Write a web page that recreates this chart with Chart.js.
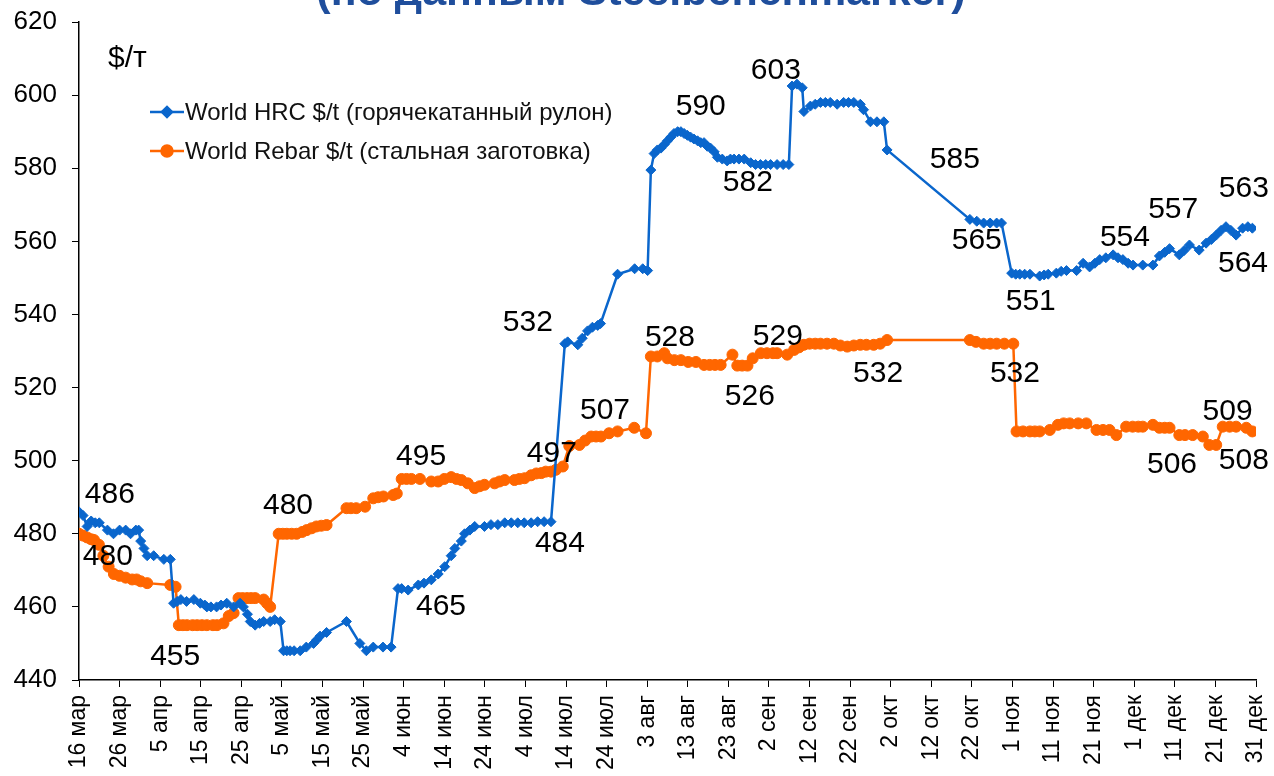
<!DOCTYPE html>
<html lang="ru">
<head>
<meta charset="utf-8">
<title>World HRC / Rebar</title>
<script src="https://cdn.jsdelivr.net/npm/chart.js@4.4.1/dist/chart.umd.min.js"></script>
<style>
  html, body { margin: 0; padding: 0; background: #fff; overflow: hidden; }
  #wrap { width: 1274px; height: 776px; position: relative; }
</style>
</head>
<body>
<div id="wrap"><canvas id="steel"></canvas></div>
<script>
// x = days after 16 мар, y = $/т
const tickLabels = ['16 мар','26 мар','5 апр','15 апр','25 апр','5 май','15 май','25 май','4 июн','14 июн','24 июн',
  '4 июл','14 июл','24 июл','3 авг','13 авг','23 авг','2 сен','12 сен','22 сен','2 окт','12 окт','22 окт',
  '1 ноя','11 ноя','21 ноя','1 дек','11 дек','21 дек','31 дек'];

const hrcDays = [0,1,2,3,4,5,7,8.5,10,11.5,12.7,14,14.7,15.2,16,16.8,18.4,20.9,22.5,23.3,24.2,25.1,26.5,28.3,29.9,31,31.5,32.5,33.9,35,
  36.4,38.1,39.7,40.5,41.5,42.2,43.4,44.5,45.5,47.1,48.2,49.6,50.4,51.2,52,53,54.5,56,57.8,58.6,59.4,61,65.9,69.2,70.8,72.5,74.9,76.9,
  78.6,79.5,81.1,83.6,85,86.8,88.5,90.1,91.7,92.6,94.2,95,96.3,97.5,99.9,101.5,103.2,104.9,106.5,108.1,109.7,111.4,113,114.6,116.3,
  119.7,120.4,122.9,124,125.3,126.5,127.8,128.5,132.7,136.9,138.9,140.1,140.9,141.7,142.5,143.4,144.2,145,145.8,146.6,147.5,148.3,
  149.1,149.9,150.7,151.5,152.4,153.2,154,154.8,155.6,156.5,157.3,158.5,159.7,160.5,161.4,162.6,163.9,165.5,166.7,167.9,169.2,170.4,
  172,173.5,174.9,175.7,176.9,178.2,178.6,180.2,181.4,182.7,183.9,185.1,186.8,188.4,189.6,190.9,192.5,193.3,195,196.6,198.3,199.1,
  219.5,221.2,222.9,224.5,226.1,227.3,229.8,230.8,231.8,233,234.3,236.7,237.8,238.8,240.8,242,243.3,245.8,247.4,249,250.3,251.5,253,
  254.8,256,257.2,258.5,259.7,262.1,264.6,266.2,267.5,268.7,271.1,272.3,273.6,276,277.7,279,280.2,281.4,282.6,283.8,285.1,286.7,288,289.1];
const hrcValues = [486,485,482,483.5,483,483,481,480,481,481,480,481,481,478,476,474,474,473,473,461,461.5,462,461.5,462,461,460.5,460,460,460,460.5,
  461,460,461,460,458,456,455,455.5,456,456,456.5,456,448,448,448,448,448,449,450,451,452,453,456,450,448,449,449,449,
  465,465,464.6,466,466.5,467.4,469,471,474,476,478,480,481,482,482,482.5,482.5,483,483,483,483,483,483.3,483.3,483.3,
  532,532.5,531.7,533.5,535.5,536.5,537,537.5,551,552.5,552.5,552,579.5,584,585,585.5,586.5,587.5,588.5,589.5,590,590,
  589.5,589,588.5,588,587.5,587,587,586,585.5,584.5,583,582.5,582,582.5,582.5,582.5,582.5,581.5,581,581,581,581,
  581,581,581,602.5,603,602,595.5,597,597.5,598,598,598,597.5,598,598,598,597.5,596,592.7,592.7,592.7,585,
  566,565.5,565,565,565,565,551.3,551,551,551,551,550.5,550.8,551,551.3,551.8,552,552,554,553,554,555,555.5,
  556.3,555.5,555,554,553.5,553.5,553.5,556,557,558,556.3,557.5,559,557.6,559.5,560.5,561.7,563,564,563,561.7,563.6,564,563.6];

const rebarDays = [0,1,2,3,3.7,4.9,6,7.3,8.6,10,11.5,13.1,14.2,15.2,16.8,22.5,23.8,24.6,25.6,26.6,28,29.1,30.3,31.5,33,34,35.6,36.9,38.1,
  39.3,40.3,41.4,42.4,43.4,45.5,46.3,47.1,49.2,50.2,51.2,52.4,53.6,55,56.1,57.3,58.5,59.7,61,65.9,67,68.3,70.5,72.5,73.7,75,77.4,78.3,
  79.5,80.7,81.9,84,86.8,88.5,90,91.7,93,94.2,95.8,97.5,98.7,99.9,102.4,103.6,104.9,107.3,108.5,109.8,111.4,112.7,113.9,115,116.3,
  117.5,119.2,120.8,123.3,124.7,126.2,127.4,128.6,130.6,132.7,136.8,139.7,140.9,142.5,144.2,145,146.7,148.3,150.1,152,154,155.4,
  156.7,158.1,161,162.2,163.4,164.7,166,168,169.5,171,172,174.5,176.2,177.4,178.6,180,181.4,182.7,184.3,186,187.6,189.3,190.9,192.5,
  194,195.8,197.4,199.1,219.5,221,222.9,224.5,226.1,228,230.2,231,232.6,234.3,235.5,236.7,239.2,241.2,242.6,244.1,246.2,248.2,250.7,
  252.3,253.9,255.6,258,259.6,261,262.1,264.6,266.2,267.5,268.7,271.1,272.5,274.4,276.9,278.5,280.2,281.8,283.5,285.1,287.6,289.1];
const rebarValues = [480,479.5,479,478.5,478.3,477,474,471,469,468.5,468,467.5,467.5,467,466.5,466,465.5,455,455,455,455,455,455,455,455,455,455.5,457.5,458.3,
  462.4,462.4,462.4,462.4,462.4,462,461,460,480,480,480,480,480,480.5,481,481.5,482,482.2,482.4,487,487,487,487.4,489.7,490,490.2,490.6,491,
  495,495,495,495,494.3,494.3,495,495.5,495,494.7,493.8,492.5,493,493.4,493.8,494.3,494.7,494.7,495,495.2,496,496.5,496.6,497,497,
  497.5,498.4,504,504.3,505.5,506.6,506.6,506.6,507.5,508,509,507.5,528.5,528.5,529.4,528,527.5,527.5,527,527,526.2,526.2,
  526.2,526.2,529,526,526,526,528,529.4,529.4,529.4,529.4,529,530.3,531,531.7,532,532,532,532,532,531.5,531.2,531.5,531.7,
  531.7,531.7,532,533,533,532.5,532,532,532,532,532,508,508,508,508,508,508.4,509.8,510.2,510.2,510.2,510.2,508.4,
  508.4,508.4,507,509.3,509.3,509.3,509.3,509.8,509,509,509,507,507,507,506.6,504.3,504.3,509.3,509.3,509.3,509,508];

// value labels on the chart (text, day, value where the text sits)
const labelTexts = ['486','480','455','480','465','495','497','484','532','507','528','590','582','526','529','603','532','585',
  '565','532','551','554','557','563','564','509','508','506'];
const labelDays = [7.6,7.1,23.7,51.5,89.2,84.3,116.5,118.5,110.6,129.6,145.6,153.2,164.8,165.3,172.2,171.7,196.9,215.8,
  221.2,230.6,234.5,257.7,269.6,287,286.8,283,287,269.3];
const labelValues = [490.6,473.7,446.3,487.6,460,501.1,502,477.2,537.7,513.6,533.6,596.8,575.9,517.4,533.8,606.6,523.7,582.4,
  560.1,523.7,543.4,560.9,568.7,574.5,553.8,513.3,499.9,498.8];

const blue = '#0a66cc';
const orange = '#ff6600';
const FONT = '"Liberation Sans", Arial, sans-serif';

const hrcPoints = hrcDays.map((d, i) => ({ x: d, y: hrcValues[i] }));
const rebarPoints = rebarDays.map((d, i) => ({ x: d, y: rebarValues[i] }));

// labels, legend, unit and cut title
const extras = {
  id: 'extras',
  afterDatasetsDraw(chart) {
    const { ctx, scales: { x, y } } = chart;
    ctx.save();
    ctx.fillStyle = '#000';
    ctx.font = '30px ' + FONT;
    ctx.textAlign = 'center';
    ctx.textBaseline = 'middle';
    labelTexts.forEach((t, i) => {
      ctx.fillText(t, x.getPixelForValue(labelDays[i]), y.getPixelForValue(labelValues[i]));
    });

    // unit
    ctx.font = '30px ' + FONT;
    ctx.textAlign = 'left';
    ctx.fillText('$/т', 108, 59);

    // legend
    const rows = [
      { text: 'World HRC $/t (горячекатанный рулон)', color: blue, style: 'rectRot', r: 5, y: 112 },
      { text: 'World Rebar $/t (стальная заготовка)', color: orange, style: 'circle', r: 5.5, y: 151 }
    ];
    ctx.font = '24px ' + FONT;
    rows.forEach(row => {
      ctx.strokeStyle = row.color;
      ctx.lineWidth = 2.5;
      ctx.beginPath();
      ctx.moveTo(150, row.y);
      ctx.lineTo(184, row.y);
      ctx.stroke();
      ctx.fillStyle = row.color;
      Chart.helpers.drawPoint(ctx, { pointStyle: row.style, radius: row.r, borderWidth: 1 }, 167, row.y);
      ctx.fillStyle = '#111';
      ctx.fillText(row.text, 185, row.y + 1);
    });

    // title, cut off by the top edge
    ctx.font = 'bold 43px ' + FONT;
    ctx.fillStyle = '#1f4e9c';
    ctx.textAlign = 'center';
    ctx.textBaseline = 'alphabetic';
    ctx.fillText('(по данным Steelbenchmarker)', 641, 5);
    ctx.restore();
  }
};

new Chart(document.getElementById('steel'), {
  type: 'line',
  data: {
    datasets: [{
      label: 'World HRC $/t (горячекатанный рулон)',
      data: hrcPoints,
      borderColor: blue,
      backgroundColor: blue,
      borderWidth: 2.5,
      pointStyle: 'rectRot',
      pointRadius: 5,
      pointBorderWidth: 1,
      tension: 0
    }, {
      label: 'World Rebar $/t (стальная заготовка)',
      data: rebarPoints,
      borderColor: orange,
      backgroundColor: orange,
      borderWidth: 2.5,
      pointStyle: 'circle',
      pointRadius: 5.5,
      pointBorderWidth: 1,
      tension: 0
    }]
  },
  options: {
    responsive: true,
    maintainAspectRatio: false,
    animation: false,
    layout: { padding: { top: 22, right: 18, left: 0, bottom: 0 } },
    scales: {
      x: {
        type: 'linear',
        min: 0,
        max: 290,
        afterFit(scale) {
          scale.height = 96;
          scale.paddingLeft = 0;
          scale.paddingRight = 0;
        },
        border: { display: true, color: '#000', width: 1.5 },
        grid: { drawOnChartArea: false, drawTicks: true, tickLength: 7, color: '#000' },
        ticks: {
          stepSize: 10,
          autoSkip: false,
          minRotation: 90,
          maxRotation: 90,
          padding: 8,
          color: '#000',
          font: { family: FONT, size: 23 },
          callback: v => tickLabels[Math.round(v / 10)]
        }
      },
      y: {
        min: 440,
        max: 620,
        afterFit(scale) {
          scale.width = 79;
          scale.paddingTop = 0;
          scale.paddingBottom = 0;
        },
        border: { display: true, color: '#000', width: 1.5 },
        grid: { drawOnChartArea: false, drawTicks: true, tickLength: 7, color: '#000' },
        ticks: {
          stepSize: 20,
          padding: 15,
          color: '#000',
          font: { family: FONT, size: 26 }
        }
      }
    },
    plugins: {
      legend: { display: false },
      tooltip: { enabled: false }
    }
  },
  plugins: [extras]
});
</script>
</body>
</html>
